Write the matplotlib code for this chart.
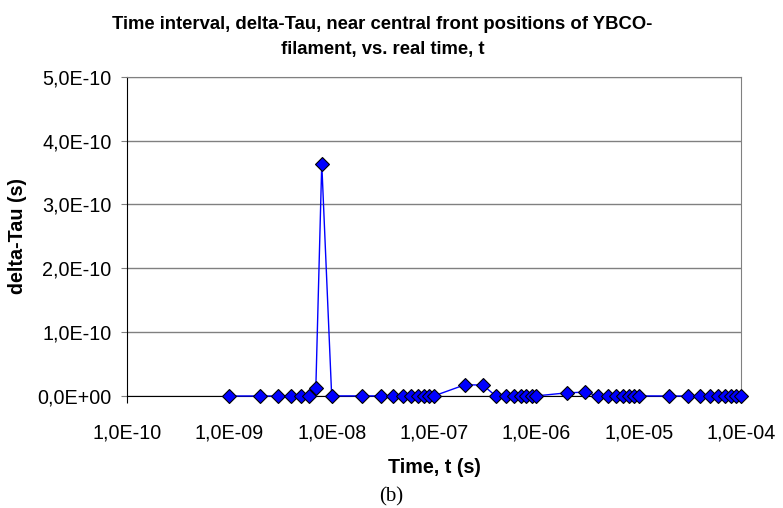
import matplotlib.pyplot as plt
from matplotlib.ticker import FuncFormatter, FixedLocator, NullLocator

# real time t (s) and time interval delta-Tau (s)
time_s = [1e-9, 2e-9, 3e-9, 4e-9, 5e-9, 6e-9, 7e-9, 8e-9,
          1e-8, 2e-8, 3e-8, 4e-8, 5e-8, 6e-8, 7e-8, 8e-8, 9e-8,
          1e-7, 2e-7, 3e-7, 4e-7, 5e-7, 6e-7, 7e-7, 8e-7, 9e-7,
          1e-6, 2e-6, 3e-6, 4e-6, 5e-6, 6e-6, 7e-6, 8e-6, 9e-6,
          1e-5, 2e-5, 3e-5, 4e-5, 5e-5, 6e-5, 7e-5, 8e-5, 9e-5,
          1e-4]
delta_tau = [0.0, 0.0, 0.0, 0.5e-13, 1.0e-13, 3.5e-13, 1.2e-11, 3.64e-10,
             1.5e-13, 1.5e-13, 1.5e-13, 1.5e-13, 1.5e-13, 1.5e-13, 1.5e-13, 1.5e-13, 1.5e-13,
             1.5e-13, 1.75e-11, 1.72e-11, 1.5e-13, 1.5e-13, 1.5e-13, 1.5e-13, 1.5e-13, 1.5e-13,
             1.5e-13, 5.0e-12, 6.0e-12, 1.5e-13, 1.5e-13, 1.5e-13, 1.5e-13, 1.5e-13, 1.5e-13,
             1.5e-13, 0.0, 0.0, 0.0, 0.0, 0.0, 0.0, 0.0, 0.0,
             0.0]

x_ticks = [1e-10, 1e-9, 1e-8, 1e-7, 1e-6, 1e-5, 1e-4]
y_ticks = [0, 1e-10, 2e-10, 3e-10, 4e-10, 5e-10]

plt.rcParams['font.family'] = ['Liberation Sans', 'DejaVu Sans']


def sci_comma(v, pos):
    return f"{v:.1E}".replace('.', ',')


fig = plt.figure(figsize=(7.83, 5.08), dpi=100)
ax = fig.add_axes([0.1622, 0.2205, 0.7842, 0.6285])

ax.plot(time_s, delta_tau, color='#0000FF', lw=1.0, marker='D', markersize=7.6,
        markerfacecolor='#0000FF', markeredgecolor='black', markeredgewidth=0.8,
        clip_on=False, zorder=3)

ax.set_xscale('log')
ax.set_xlim(1e-10, 1e-4)
ax.set_ylim(0, 5e-10)
ax.xaxis.set_major_locator(FixedLocator(x_ticks))
ax.xaxis.set_minor_locator(NullLocator())
ax.yaxis.set_major_locator(FixedLocator(y_ticks))
ax.xaxis.set_major_formatter(FuncFormatter(sci_comma))
ax.yaxis.set_major_formatter(FuncFormatter(sci_comma))

ax.grid(axis='y', color='#808080', lw=1.0)
ax.set_axisbelow(True)
for side in ('top', 'right'):
    ax.spines[side].set_color('#808080')
for side in ('left', 'bottom'):
    ax.spines[side].set_color('black')
ax.tick_params(axis='y', direction='out', length=4, color='#808080', labelsize=14.2, pad=7)
ax.tick_params(axis='x', direction='out', length=5, color='black', labelsize=14.2, pad=15)

ax.set_xlabel('Time, t (s)', fontsize=14.2, fontweight='bold', labelpad=11)
ax.set_ylabel('delta-Tau (s)', fontsize=14.2, fontweight='bold')
ax.yaxis.set_label_coords(-0.163, 0.5)

fig.text(0.4885, 0.927, 'Time interval, delta-Tau, near central front positions of YBCO-\n'
         'filament, vs. real time, t', ha='center', va='center', fontsize=13.3,
         fontweight='bold', linespacing=1.65)

fig.text(0.4995, 0.022, '(b)', ha='center', va='center', fontsize=15,
         family=['Liberation Serif', 'DejaVu Serif'])

fig.savefig('out.png', dpi=100)
